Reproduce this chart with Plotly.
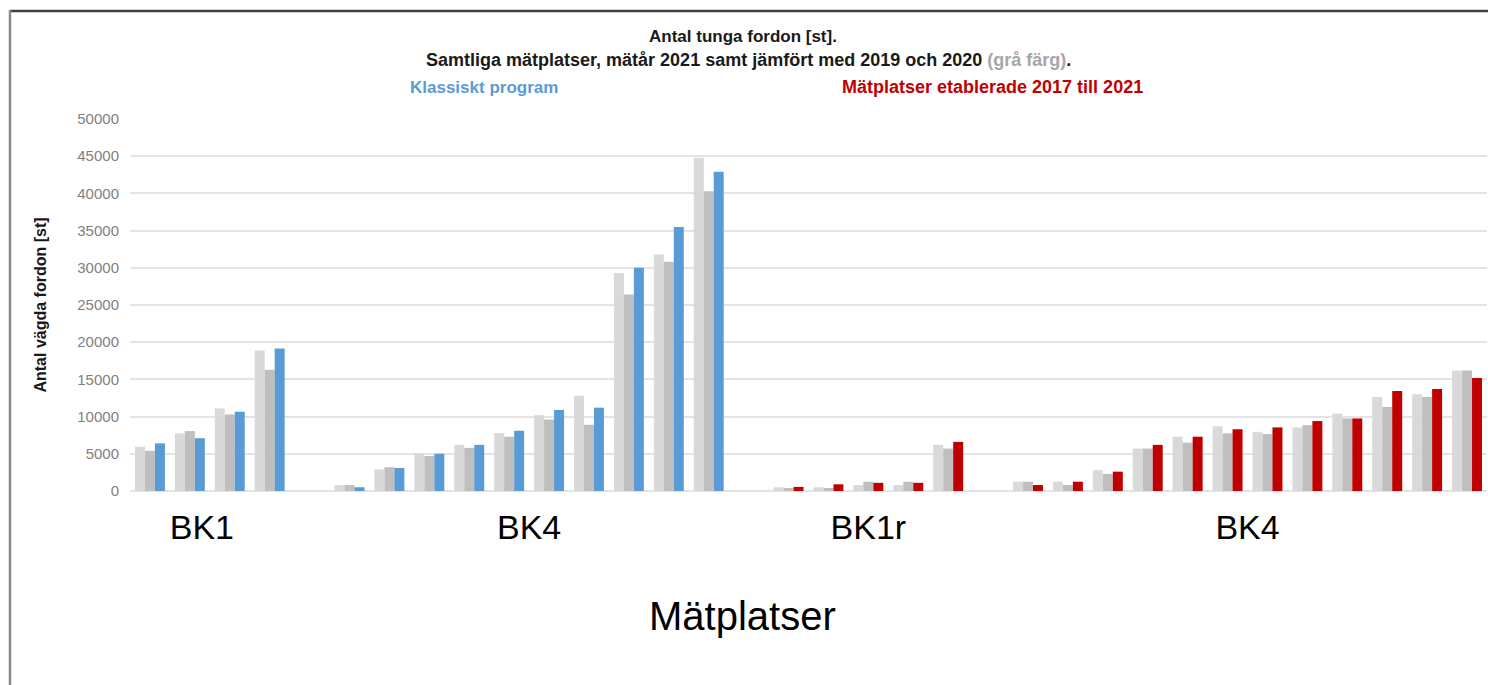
import plotly.graph_objects as go

# Measuring sites, grouped by vehicle class section
sections = ["BK1", "BK4", "BK1r", "BK4"]
section_sizes = [4, 10, 5, 12]
# Programme for each section: classic programme or sites established 2017-2021
section_program = ["Klassiskt", "Klassiskt", "Ny", "Ny"]

# Number of weighed heavy vehicles per site
values_2019 = [
    5950, 7750, 11100, 18900,
    800, 2900, 5100, 6200, 7800, 10200, 12800, 29300, 31800, 44800,
    500, 500, 800, 800, 6200,
    1250, 1250, 2800, 5700, 7300, 8700, 7950, 8550, 10400, 12650, 13000, 16200,
]
values_2020 = [
    5400, 8050, 10300, 16300,
    800, 3200, 4700, 5800, 7300, 9600, 8900, 26400, 30800, 40300,
    400, 400, 1250, 1250, 5700,
    1250, 800, 2300, 5700, 6500, 7750, 7650, 8850, 9750, 11300, 12650, 16200,
]
values_2021 = [
    6400, 7100, 10650, 19150,
    500, 3100, 5000, 6200, 8100, 10900, 11200, 30000, 35500, 42900,
    550, 900, 1100, 1100, 6600,
    800, 1250, 2600, 6200, 7300, 8300, 8550, 9400, 9750, 13450, 13700, 15200,
]

program_colors = {"Klassiskt": "#5b9bd5", "Ny": "#c00000"}

# Slot positions along the x axis, leaving one empty slot between sections
x_pos, colors_2021, label_pos = [], [], []
slot = 0
for i, (n, prog) in enumerate(zip(section_sizes, section_program)):
    if i > 0:
        slot += 1
    start = slot
    for _ in range(n):
        x_pos.append(slot)
        colors_2021.append(program_colors[prog])
        slot += 1
    label_pos.append((start + slot - 1) / 2)
label_pos[0] -= 0.2
n_slots = slot

fig = go.Figure()
fig.add_trace(go.Bar(x=x_pos, y=values_2019, name="2019",
                     marker=dict(color="#d9d9d9", line_width=0)))
fig.add_trace(go.Bar(x=x_pos, y=values_2020, name="2020",
                     marker=dict(color="#bfbfbf", line_width=0)))
fig.add_trace(go.Bar(x=x_pos, y=values_2021, name="2021",
                     marker=dict(color=colors_2021, line_width=0)))

W, H = 1488, 685
L, R, T, B = 130, 1, 119, 194
ph = H - T - B


def py(px):
    return (H - B - px) / ph


def pxx(px):
    return (px - L) / (W - L - R)


title_font = dict(family="Liberation Sans, Arial", size=17, color="#1a1a1a")
sub_font = dict(title_font, size=18)

annotations = [
    dict(text="<b>Antal tunga fordon [st].</b>", x=pxx(743), y=py(37)),
    dict(text="<b>Samtliga mätplatser, mätår 2021 samt jämfört med 2019 och 2020 "
              "<span style='color:#a6a6a6'>(grå färg)</span>.</b>", x=pxx(748), y=py(60),
         font=sub_font),
    dict(text="<b>Klassiskt program</b>", x=pxx(484), y=py(87),
         font=dict(title_font, color="#5b9bd5")),
    dict(text="<b>Mätplatser etablerade 2017 till 2021</b>", x=pxx(992), y=py(87),
         font=dict(sub_font, color="#c00000")),
    dict(text="Mätplatser", x=pxx(742), y=py(616),
         font=dict(family="Liberation Sans, Arial", size=40, color="black")),
]
for a in annotations:
    a.update(xref="paper", yref="paper", showarrow=False,
             xanchor="center", yanchor="middle")
    a.setdefault("font", title_font)

fig.update_layout(
    width=W, height=H,
    margin=dict(l=L, r=R, t=T, b=B, autoexpand=False),
    paper_bgcolor="white", plot_bgcolor="white",
    barmode="group", bargap=0.25, bargroupgap=0,
    showlegend=False,
    annotations=annotations,
    shapes=[
        dict(type="line", xref="paper", yref="paper",
             x0=pxx(10), x1=pxx(W + 5), y0=py(11), y1=py(11),
             line=dict(color="#404040", width=2.5)),
        dict(type="line", xref="paper", yref="paper",
             x0=pxx(10), x1=pxx(10), y0=py(10), y1=py(H + 5),
             line=dict(color="#8a8a8a", width=2.5)),
    ],
    xaxis=dict(
        range=[-0.5, n_slots - 0.5],
        tickvals=label_pos, ticktext=sections,
        tickfont=dict(family="Liberation Sans, Arial", size=34, color="black"),
        ticks="", showgrid=False, zeroline=False, showline=False,
        ticklabelstandoff=13,
    ),
    yaxis=dict(
        range=[0, 50000], dtick=5000, tickformat="d",
        tickfont=dict(family="Liberation Sans, Arial", size=15, color="#7f7f7f"),
        gridcolor="#e4e4e4", gridwidth=1.5,
        zeroline=True, zerolinecolor="#e4e4e4", zerolinewidth=1.5,
        showline=False, ticks="", ticklabelstandoff=10,
        title=dict(text="<b>Antal vägda fordon [st]</b>", standoff=26,
                   font=dict(family="Liberation Sans, Arial", size=16, color="#1a1a1a")),
    ),
)

fig.write_html("out.html")
